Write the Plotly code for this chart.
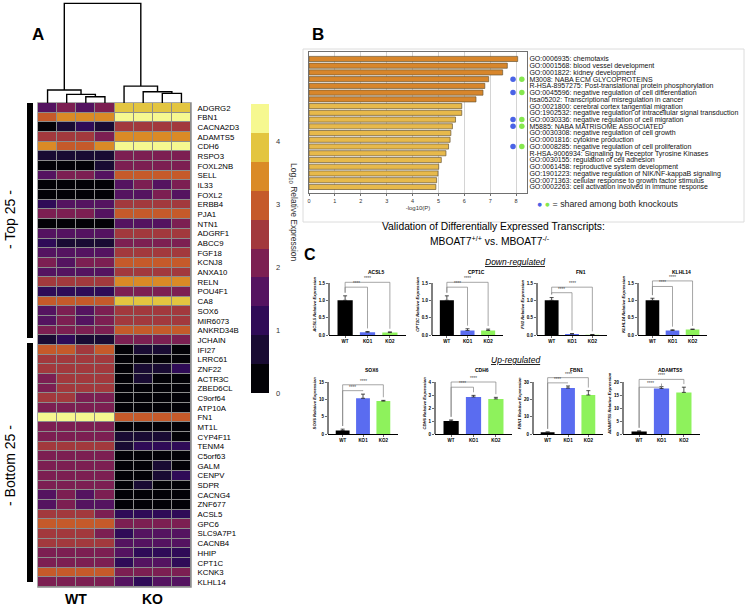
import plotly.graph_objects as go

W, H = 745, 608
FONT = "Liberation Sans, Arial, sans-serif"


def px_x(p):
    return p / W


def px_y(p):
    return 1 - p / H


# ---------------- Panel A data ----------------
genes = ["ADGRG2", "FBN1", "CACNA2D3", "ADAMTS5", "CDH6", "RSPO3", "FOXL2NB", "SELL", "IL33", "FOXL2",
         "ERBB4", "PJA1", "NTN1", "ADGRF1", "ABCC9", "FGF18", "KCNJ8", "ANXA10", "RELN", "POU4F1",
         "CA8", "SOX6", "MIR6073", "ANKRD34B", "JCHAIN",
         "IFI27", "LRRC61", "ZNF22", "ACTR3C", "ZBED6CL", "C9orf64", "ATP10A", "FN1", "MT1L", "CYP4F11",
         "TENM4", "C5orf63", "GALM", "CENPV", "SDPR", "CACNG4", "ZNF677", "ACSL5", "GPC6", "SLC9A7P1",
         "CACNB4", "HHIP", "CPT1C", "KCNK3", "KLHL14"]

wt_expr = [
    [1.6, 2.1, 1.6, 2.1], [3.0, 3.45, 3.45, 3.45], [0.2, 0.7, 1.15, 0.7], [2.55, 2.55, 2.55, 2.1],
    [3.45, 3.0, 3.0, 3.45], [0.7, 0.7, 0.7, 0.7], [0.2, 0.2, 0.2, 0.7], [1.6, 2.1, 2.1, 1.6],
    [0.2, 0.2, 0.2, 0.2], [0.2, 0.2, 0.2, 0.2], [1.15, 1.6, 1.6, 1.6], [2.1, 2.1, 2.1, 1.6],
    [0.2, 0.2, 0.2, 0.2], [1.6, 1.6, 1.6, 1.6], [1.15, 0.7, 0.7, 0.7], [1.6, 1.6, 1.6, 1.6],
    [2.1, 1.6, 2.1, 2.1], [1.6, 1.6, 1.6, 1.6], [2.55, 2.55, 2.55, 2.55], [1.15, 1.15, 1.15, 1.15],
    [3.0, 3.0, 3.0, 3.0], [1.6, 2.1, 1.6, 2.1], [1.6, 2.1, 1.6, 2.1], [2.1, 2.1, 2.1, 2.1],
    [0.7, 1.15, 0.7, 0.7],
    [3.0, 3.0, 2.55, 3.0], [2.55, 2.55, 2.55, 2.55], [2.55, 2.55, 2.55, 2.55], [2.1, 2.55, 2.55, 2.55],
    [2.1, 2.55, 2.55, 2.55], [2.55, 2.55, 2.1, 2.1], [2.1, 2.1, 2.1, 2.1], [4.4, 4.4, 4.4, 4.4],
    [2.1, 2.1, 2.1, 2.1], [2.1, 2.1, 2.1, 2.1], [2.55, 2.55, 2.55, 2.55], [2.1, 2.1, 2.1, 2.1],
    [2.1, 2.1, 2.1, 2.1], [2.1, 2.1, 2.1, 2.1], [2.1, 2.1, 2.1, 2.1], [1.6, 2.1, 1.6, 2.1],
    [1.6, 2.1, 1.6, 1.6], [2.55, 2.55, 2.55, 2.1], [3.0, 3.0, 3.0, 3.0], [2.55, 2.55, 2.55, 2.1],
    [2.55, 2.55, 2.55, 2.55], [2.1, 2.1, 2.1, 2.1], [2.1, 2.1, 2.1, 2.1], [3.0, 3.0, 3.0, 3.0],
    [2.1, 2.1, 2.1, 2.1],
]
ko_expr = [
    [3.9, 3.9, 3.9, 3.9], [4.4, 4.4, 4.4, 4.4], [2.55, 2.55, 2.55, 2.55], [3.45, 3.45, 3.45, 3.45],
    [4.4, 4.4, 4.4, 4.4], [2.1, 2.1, 2.1, 2.1], [2.1, 2.1, 2.1, 2.1], [3.0, 3.0, 3.0, 3.0],
    [1.6, 2.1, 1.6, 2.1], [1.6, 1.6, 2.1, 1.6], [2.55, 2.55, 2.55, 2.55], [3.0, 3.0, 3.0, 3.0],
    [1.6, 1.6, 1.6, 2.1], [2.55, 2.55, 2.55, 2.55], [2.1, 2.1, 2.1, 2.1], [2.55, 2.55, 2.55, 2.55],
    [3.0, 3.0, 3.0, 3.0], [2.55, 2.55, 2.55, 2.55], [3.45, 3.45, 3.45, 3.45], [2.1, 2.1, 2.1, 2.1],
    [3.9, 3.9, 3.9, 3.9], [2.55, 2.55, 2.55, 2.55], [2.55, 2.55, 2.55, 2.55], [3.0, 3.0, 3.0, 3.0],
    [2.1, 2.1, 2.1, 2.1],
    [0.2, 0.7, 0.7, 0.2], [0.2, 0.2, 0.2, 0.2], [0.2, 0.7, 0.7, 1.15], [0.2, 0.7, 0.2, 0.2],
    [0.2, 0.2, 0.2, 0.2], [0.2, 0.2, 0.2, 0.2], [0.2, 0.2, 0.2, 0.2], [3.0, 3.0, 3.0, 3.0],
    [0.2, 0.2, 0.2, 0.2], [0.7, 0.7, 0.7, 0.2], [0.7, 1.15, 1.15, 1.15], [0.2, 0.2, 0.2, 0.2],
    [0.2, 0.2, 0.7, 0.2], [0.2, 0.2, 0.7, 1.15], [0.2, 0.7, 0.2, 0.2], [0.2, 0.2, 0.2, 0.2],
    [0.2, 0.2, 0.2, 0.2], [1.15, 1.15, 1.15, 1.15], [2.1, 2.1, 2.1, 2.1], [1.15, 1.6, 1.6, 1.6],
    [1.6, 1.6, 1.6, 1.6], [1.6, 1.15, 1.15, 1.15], [1.15, 1.6, 1.6, 1.15], [2.1, 2.1, 2.1, 2.1],
    [1.6, 1.15, 1.6, 1.6],
]
samples = [0, 1, 2, 3, 4, 5, 6, 7]
# column dendrogram merges: (child a, child b, height); ids >= 8 are earlier merges
col_merges = [(2, 3, 6.3), (1, 8, 8.7), (0, 9, 13.0), (6, 7, 9.7), (5, 11, 11.3), (4, 12, 17.0), (10, 13, 100.3)]
level_colors = ["#030207", "#190b33", "#2f0b57", "#541360", "#7c1f52", "#a2393d",
                "#c55a2a", "#da8a26", "#e3c540", "#f6f890"]
cbar_max = 4.6
cbar_ticks = [0, 1, 2, 3, 4]

# ---------------- Panel B data ----------------
terms = ["GO:0006935: chemotaxis",
         "GO:0001568: blood vessel development",
         "GO:0001822: kidney development",
         "M3008: NABA ECM GLYCOPROTEINS",
         "R-HSA-8957275: Post-translational protein phosphorylation",
         "GO:0045596: negative regulation of cell differentiation",
         "hsa05202: Transcriptional misregulation in cancer",
         "GO:0021800: cerebral cortex tangential migration",
         "GO:1902532: negative regulation of intracellular signal transduction",
         "GO:0030336: negative regulation of cell migration",
         "M5885: NABA MATRISOME ASSOCIATED",
         "GO:0030308: negative regulation of cell growth",
         "GO:0001816: cytokine production",
         "GO:0008285: negative regulation of cell proliferation",
         "R-HSA-9006934: Signaling by Receptor Tyrosine Kinases",
         "GO:0030155: regulation of cell adhesion",
         "GO:0061458: reproductive system development",
         "GO:1901223: negative regulation of NIK/NF-kappaB signaling",
         "GO:0071363: cellular response to growth factor stimulus",
         "GO:0002263: cell activation involved in immune response"]
neg_log_p = [8.06, 7.66, 7.48, 6.94, 6.79, 6.72, 6.45, 5.90, 5.90, 5.66,
             5.54, 5.48, 5.45, 5.39, 5.29, 5.11, 5.01, 4.98, 4.93, 4.90]
shared_terms = ["M3008: NABA ECM GLYCOPROTEINS",
                "GO:0045596: negative regulation of cell differentiation",
                "GO:0030336: negative regulation of cell migration",
                "M5885: NABA MATRISOME ASSOCIATED",
                "GO:0008285: negative regulation of cell proliferation"]

# ---------------- Panel C data ----------------
groups = ["WT", "KO1", "KO2"]
group_colors = ["#000000", "#5a6cf0", "#8ef25c"]
down_genes = ["ACSL5", "CPT1C", "FN1", "KLHL14"]
down_mean = [[1.0, 0.08, 0.07], [1.0, 0.13, 0.13], [1.0, 0.03, 0.01], [1.0, 0.13, 0.16]]
down_err = [[0.13, 0.02, 0.02], [0.13, 0.05, 0.04], [0.08, 0.01, 0.005], [0.06, 0.02, 0.01]]
down_ymax = [1.5, 1.5, 1.5, 1.5]
down_ticks = [[0, 0.5, 1.0, 1.5]] * 4
down_brackets = [[1.38, 1.52], [1.38, 1.52], [1.22, 1.38], [1.40, 1.56]]
up_genes = ["SOX6", "CDH6", "FBN1", "ADAMTS5"]
up_mean = [[1.0, 10.3, 9.5], [1.0, 2.85, 2.7], [1.0, 26.5, 22.5], [1.0, 17.5, 16.0]]
up_err = [[0.4, 1.2, 0.2], [0.08, 0.12, 0.12], [0.2, 1.2, 2.5], [0.2, 0.7, 2.0]]
up_ymax = [15, 4, 30, 20]
up_ticks = [[0, 5, 10, 15], [0, 1, 2, 3, 4], [0, 10, 20, 30], [0, 5, 10, 15, 20]]
up_brackets = [[12.5, 14.2], [3.6, 4.0], [29.5, 32.5], [18.0, 21.0]]
sig_label = "****"

fig = go.Figure()
shapes = []
annotations = []

# ======== Panel A: heatmap ========
z = [w + k for w, k in zip(wt_expr, ko_expr)]
fig.add_trace(go.Heatmap(z=z, x=samples, y=genes, coloraxis="coloraxis", xgap=1, ygap=1,
                         xaxis="x", yaxis="y", hoverinfo="skip"))
hm_l, hm_r, hm_t, hm_b = 38, 191, 103, 587
shapes.append(dict(type="rect", xref="paper", yref="paper", x0=px_x(hm_l), x1=px_x(hm_r),
                   y0=px_y(hm_b), y1=px_y(hm_t), fillcolor="#8c8c8c",
                   line=dict(color="#8c8c8c", width=1.5), layer="below"))

# dendrogram
pos = {i: float(i) for i in range(len(samples))}
hgt = {i: 0.0 for i in range(len(samples))}
dx, dy = [], []
for n, (a, b, h) in enumerate(col_merges):
    node = len(samples) + n
    dx += [pos[a], pos[a], pos[b], pos[b], None]
    dy += [hgt[a], h, h, hgt[b], None]
    pos[node] = (pos[a] + pos[b]) / 2
    hgt[node] = h
fig.add_trace(go.Scatter(x=dx, y=dy, mode="lines", line=dict(color="black", width=1.4),
                         xaxis="x2", yaxis="y2", hoverinfo="skip", showlegend=False))

n_lv = len(level_colors)
cscale = []
for i, c in enumerate(level_colors):
    cscale += [[i / n_lv, c], [(i + 1) / n_lv, c]]

# top / bottom bars
shapes.append(dict(type="rect", xref="paper", yref="paper", x0=px_x(27), x1=px_x(33),
                   y0=px_y(338), y1=px_y(103), fillcolor="black", line=dict(width=0)))
shapes.append(dict(type="rect", xref="paper", yref="paper", x0=px_x(27), x1=px_x(33),
                   y0=px_y(582), y1=px_y(343), fillcolor="black", line=dict(width=0)))

annotations += [
    dict(text="<b>A</b>", x=px_x(38), y=px_y(34), font=dict(size=17)),
    dict(text="- Top 25 -", x=px_x(10), y=px_y(220), textangle=-90, font=dict(size=14)),
    dict(text="- Bottom 25 -", x=px_x(10), y=px_y(466), textangle=-90, font=dict(size=14)),
    dict(text="<b>WT</b>", x=px_x(76), y=px_y(599), font=dict(size=14)),
    dict(text="<b>KO</b>", x=px_x(152), y=px_y(599), font=dict(size=14)),
    dict(text="Log<sub>10</sub> Relative Expression", x=px_x(293), y=px_y(212), textangle=90,
         font=dict(size=8.5, color="#333")),
]

# ======== Panel B ========
bar_colors = ["#d8862b" if v > 6 else "#e7b94b" for v in neg_log_p]
fig.add_trace(go.Bar(x=neg_log_p, y=terms, orientation="h", marker=dict(color=bar_colors,
                     line=dict(color="#6a5835", width=0.7)), width=0.76,
                     xaxis="x3", yaxis="y3", hoverinfo="skip", showlegend=False))
fig.add_trace(go.Scatter(x=[7.88] * len(shared_terms), y=shared_terms, mode="markers",
                         marker=dict(color="#4a63e6", size=5.5), xaxis="x3", yaxis="y3",
                         hoverinfo="skip", showlegend=False))
fig.add_trace(go.Scatter(x=[8.22] * len(shared_terms), y=shared_terms, mode="markers",
                         marker=dict(color="#86e84e", size=5.5), xaxis="x3", yaxis="y3",
                         hoverinfo="skip", showlegend=False))
shapes.append(dict(type="rect", xref="paper", yref="paper", x0=px_x(303), x1=px_x(744),
                   y0=px_y(222), y1=px_y(49), line=dict(color="#dcdcdc", width=1)))
annotations += [
    dict(text="<b>B</b>", x=px_x(318), y=px_y(35), font=dict(size=17)),
    dict(text="<span style='color:#4a63e6'>\u25cf</span> <span style='color:#86e84e'>\u25cf</span> = shared among both knockouts",
         x=px_x(535), y=px_y(204), xanchor="left", font=dict(size=8.8, color="#222")),
]

# ======== Panel C ========
annotations += [
    dict(text="<b>C</b>", x=px_x(310), y=px_y(255), font=dict(size=16)),
    dict(text="Validation of Differentially Expressed Transcripts:", x=px_x(494), y=px_y(226),
         font=dict(size=10.3)),
    dict(text="MBOAT7<sup>+/+</sup> vs. MBOAT7<sup>-/-</sup>", x=px_x(490), y=px_y(240),
         font=dict(size=10.3)),
    dict(text="<i><u>Down-regulated</u></i>", x=px_x(515), y=px_y(262), font=dict(size=8.5)),
    dict(text="<i><u>Up-regulated</u></i>", x=px_x(515), y=px_y(360), font=dict(size=8.5)),
]

HEAD = 1.18
panels = []
top_lefts, top_widths = [329, 432, 537, 638], [77, 71, 70, 69]
bot_lefts, bot_widths = [328, 435, 533, 623], [70, 77, 70, 77]
for i in range(4):
    panels.append(dict(gene=down_genes[i], mean=down_mean[i], err=down_err[i], ymax=down_ymax[i],
                       ticks=down_ticks[i], br=down_brackets[i], left=top_lefts[i],
                       width=top_widths[i], base=335, title_y=272, fmt=".1f"))
for i in range(4):
    panels.append(dict(gene=up_genes[i], mean=up_mean[i], err=up_err[i], ymax=up_ymax[i],
                       ticks=up_ticks[i], br=up_brackets[i], left=bot_lefts[i],
                       width=bot_widths[i], base=434, title_y=370, fmt="d"))

axis_layout = {}
for n, p in enumerate(panels):
    k = n + 4
    xa, ya = f"x{k}", f"y{k}"
    fig.add_trace(go.Bar(x=groups, y=p["mean"], marker=dict(color=group_colors, line=dict(width=0)),
                         width=0.68,
                         error_y=dict(type="data", symmetric=False, array=p["err"],
                                      arrayminus=[0] * len(groups), color="#222",
                                      thickness=0.8, width=2),
                         xaxis=xa, yaxis=ya, hoverinfo="skip", showlegend=False))
    tops = [m + e for m, e in zip(p["mean"], p["err"])]
    gap = 0.06 * p["ymax"]
    for j, level in zip([1, 2], p["br"]):
        fig.add_trace(go.Scatter(x=[groups[0], groups[0], groups[j], groups[j]],
                                 y=[tops[0] + gap, level, level, tops[j] + gap],
                                 mode="lines", line=dict(color="#808080", width=0.7),
                                 xaxis=xa, yaxis=ya, hoverinfo="skip", showlegend=False))
        annotations.append(dict(text=sig_label, xref=xa, yref=ya, x=j / 2, y=level,
                                yanchor="bottom", yshift=-1, font=dict(size=4.5, color="#444")))
    d0 = px_x(p["left"])
    d1 = px_x(p["left"] + p["width"])
    axis_layout[f"xaxis{k}"] = dict(domain=[d0, d1], anchor=ya, type="category",
                                    range=[-0.72, 2.72], showgrid=False, zeroline=False,
                                    showline=True, linecolor="black", linewidth=1,
                                    ticks="outside", ticklen=2, tickwidth=0.8,
                                    tickfont=dict(size=4.5, weight="bold"), automargin=False)
    axis_layout[f"yaxis{k}"] = dict(domain=[px_y(p["base"]), px_y(p["base"] - 52 * HEAD)],
                                    anchor=xa, range=[0, p["ymax"] * HEAD], tickvals=p["ticks"],
                                    tickformat=p["fmt"], showgrid=False, zeroline=False,
                                    showline=False, ticks="outside", ticklen=2, tickwidth=0.8,
                                    tickfont=dict(size=4.5, weight="bold"), automargin=False,
                                    title=dict(text=f"<i>{p['gene']} Relative Expression</i>",
                                               font=dict(size=4.2, weight="bold"), standoff=2))
    shapes.append(dict(type="line", xref=f"{xa} domain", yref=f"{ya} domain", x0=0, x1=0,
                       y0=0, y1=1 / HEAD, line=dict(color="black", width=1)))
    annotations.append(dict(text=f"<b>{p['gene']}</b>", x=(d0 + d1) / 2 + 0.012, y=px_y(p["title_y"]),
                            font=dict(size=5)))

for a in annotations:
    a.setdefault("xref", "paper")
    a.setdefault("yref", "paper")
    a["showarrow"] = False
    a.setdefault("xanchor", "center")
    a.setdefault("yanchor", "middle")

fig.update_layout(
    width=W, height=H, margin=dict(l=0, r=0, t=0, b=0),
    paper_bgcolor="white", plot_bgcolor="white",
    font=dict(family=FONT, color="black"),
    showlegend=False,
    coloraxis=dict(cmin=0, cmax=cbar_max, colorscale=cscale,
                   colorbar=dict(x=px_x(251), xanchor="left", y=px_y(248.5), yanchor="middle",
                                 len=289, lenmode="pixels", thickness=18, thicknessmode="pixels",
                                 xpad=0, ypad=0, outlinewidth=0, tickvals=cbar_ticks,
                                 ticks="outside", ticklen=6, tickcolor="rgba(0,0,0,0)",
                                 tickfont=dict(size=7.5, color="#333"))),
    xaxis=dict(domain=[px_x(hm_l), px_x(hm_r)], range=[-0.5, 7.5], visible=False, anchor="y"),
    yaxis=dict(domain=[px_y(hm_b), px_y(hm_t)], anchor="x", side="right",
               categoryorder="array", categoryarray=genes, range=[49.5, -0.5],
               tickmode="array", tickvals=genes,
               ticks="outside", ticklen=4, tickcolor="rgba(0,0,0,0)", showgrid=False,
               zeroline=False, tickfont=dict(size=7.8), automargin=False),
    xaxis2=dict(domain=[px_x(hm_l), px_x(hm_r)], range=[-0.5, 7.5], visible=False, anchor="y2"),
    yaxis2=dict(domain=[px_y(hm_t), px_y(2.5)], range=[0, 101], visible=False, anchor="x2"),
    xaxis3=dict(domain=[px_x(309), px_x(527)], range=[0, 8.42], anchor="y3",
                tickvals=[0, 1, 2, 3, 4, 5, 6, 7, 8], showgrid=True, gridcolor="#d4d4d4",
                gridwidth=1, zeroline=False, showline=True, mirror=True, linecolor="#707070",
                ticks="outside", ticklen=2, tickcolor="#707070", tickfont=dict(size=5.5, color="#333"),
                title=dict(text="-log10(P)", font=dict(size=6, color="#333"), standoff=3),
                automargin=False),
    yaxis3=dict(domain=[px_y(193), px_y(52)], anchor="x3", side="right",
                categoryorder="array", categoryarray=terms, range=[19.9, -1.03],
                tickmode="array", tickvals=terms,
                showgrid=False, zeroline=False, showline=True, mirror=True, linecolor="#707070",
                ticks="", tickfont=dict(size=7.0, color="#111"), automargin=False),
    shapes=shapes, annotations=annotations,
    **axis_layout,
)

fig.write_html("out.html", config={"displayModeBar": False, "staticPlot": True},
               post_script="document.body.style.margin='0px';")
